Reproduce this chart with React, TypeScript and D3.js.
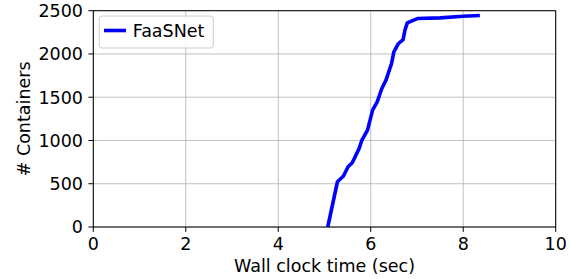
import React from "react";
import * as d3 from "d3";

const seriesName = "FaaSNet";
const timeSec = [5.07, 5.28, 5.41, 5.51, 5.6, 5.75, 5.81, 5.93, 6.04, 6.14, 6.24, 6.33, 6.45, 6.5, 6.6, 6.7, 6.74, 6.79, 6.89, 7.01, 7.5, 8.0, 8.36];
const containers = [0, 523, 589, 696, 743, 909, 1005, 1120, 1351, 1447, 1601, 1697, 1890, 2024, 2121, 2167, 2275, 2359, 2382, 2409, 2417, 2436, 2444];
const xTicks = [0, 2, 4, 6, 8, 10];
const yTicks = [0, 500, 1000, 1500, 2000, 2500];

const W = 572;
const H = 279;
const M = { left: 93.3, right: 572 - 555.7, top: 10.7, bottom: 279 - 227 };
const FONT = "DejaVu Sans, sans-serif";
const FS = 17.5;

export default function App() {
  const x = d3.scaleLinear().domain([0, 10]).range([M.left, W - M.right]);
  const y = d3.scaleLinear().domain([0, 2500]).range([H - M.bottom, M.top]);
  const data = timeSec.map((t, i) => [t, containers[i]] as [number, number]);
  const line = d3.line<[number, number]>().x((d) => x(d[0])).y((d) => y(d[1]));
  const x0 = x(0), x1 = x(10), y0 = y(0), y1 = y(2500);

  return (
    <svg width={W} height={H} style={{ position: "fixed", left: 0, top: 0, background: "#fff" }} fontFamily={FONT}>
      <rect x={0} y={0} width={W} height={H} fill="#fff" />
      {xTicks.map((t) => (
        <line key={"gx" + t} x1={x(t)} x2={x(t)} y1={y0} y2={y1} stroke="#b0b0b0" strokeWidth={0.8} />
      ))}
      {yTicks.map((t) => (
        <line key={"gy" + t} x1={x0} x2={x1} y1={y(t)} y2={y(t)} stroke="#b0b0b0" strokeWidth={0.8} />
      ))}
      <path d={line(data) || ""} fill="none" stroke="#0000ff" strokeWidth={3.6} strokeLinejoin="round" />
      <rect x={x0} y={y1} width={x1 - x0} height={y0 - y1} fill="none" stroke="#000" strokeWidth={1} />
      {xTicks.map((t) => (
        <g key={"tx" + t}>
          <line x1={x(t)} x2={x(t)} y1={y0} y2={y0 + 4.9} stroke="#000" strokeWidth={1} />
          <text x={x(t)} y={250} textAnchor="middle" fontSize={FS} fill="#000">{t}</text>
        </g>
      ))}
      {yTicks.map((t) => (
        <g key={"ty" + t}>
          <line x1={x0 - 4.9} x2={x0} y1={y(t)} y2={y(t)} stroke="#000" strokeWidth={1} />
          <text x={83} y={y(t)} dy="0.36em" textAnchor="end" fontSize={FS} fill="#000">{t}</text>
        </g>
      ))}
      <text x={(x0 + x1) / 2} y={272} textAnchor="middle" fontSize={FS} fill="#000">Wall clock time (sec)</text>
      <text transform={`translate(${29.5}, ${(y0 + y1) / 2}) rotate(-90)`} textAnchor="middle" fontSize={FS} fill="#000"># Containers</text>
      <g>
        <rect x={99.3} y={16} width={114} height={32} rx={3} fill="#fff" fillOpacity={0.8} stroke="#cccccc" strokeWidth={1} />
        <line x1={104} x2={126} y1={30.5} y2={30.5} stroke="#0000ff" strokeWidth={3.6} />
        <text x={132.7} y={30.5} dy="0.36em" fontSize={FS} fill="#000">{seriesName}</text>
      </g>
    </svg>
  );
}
